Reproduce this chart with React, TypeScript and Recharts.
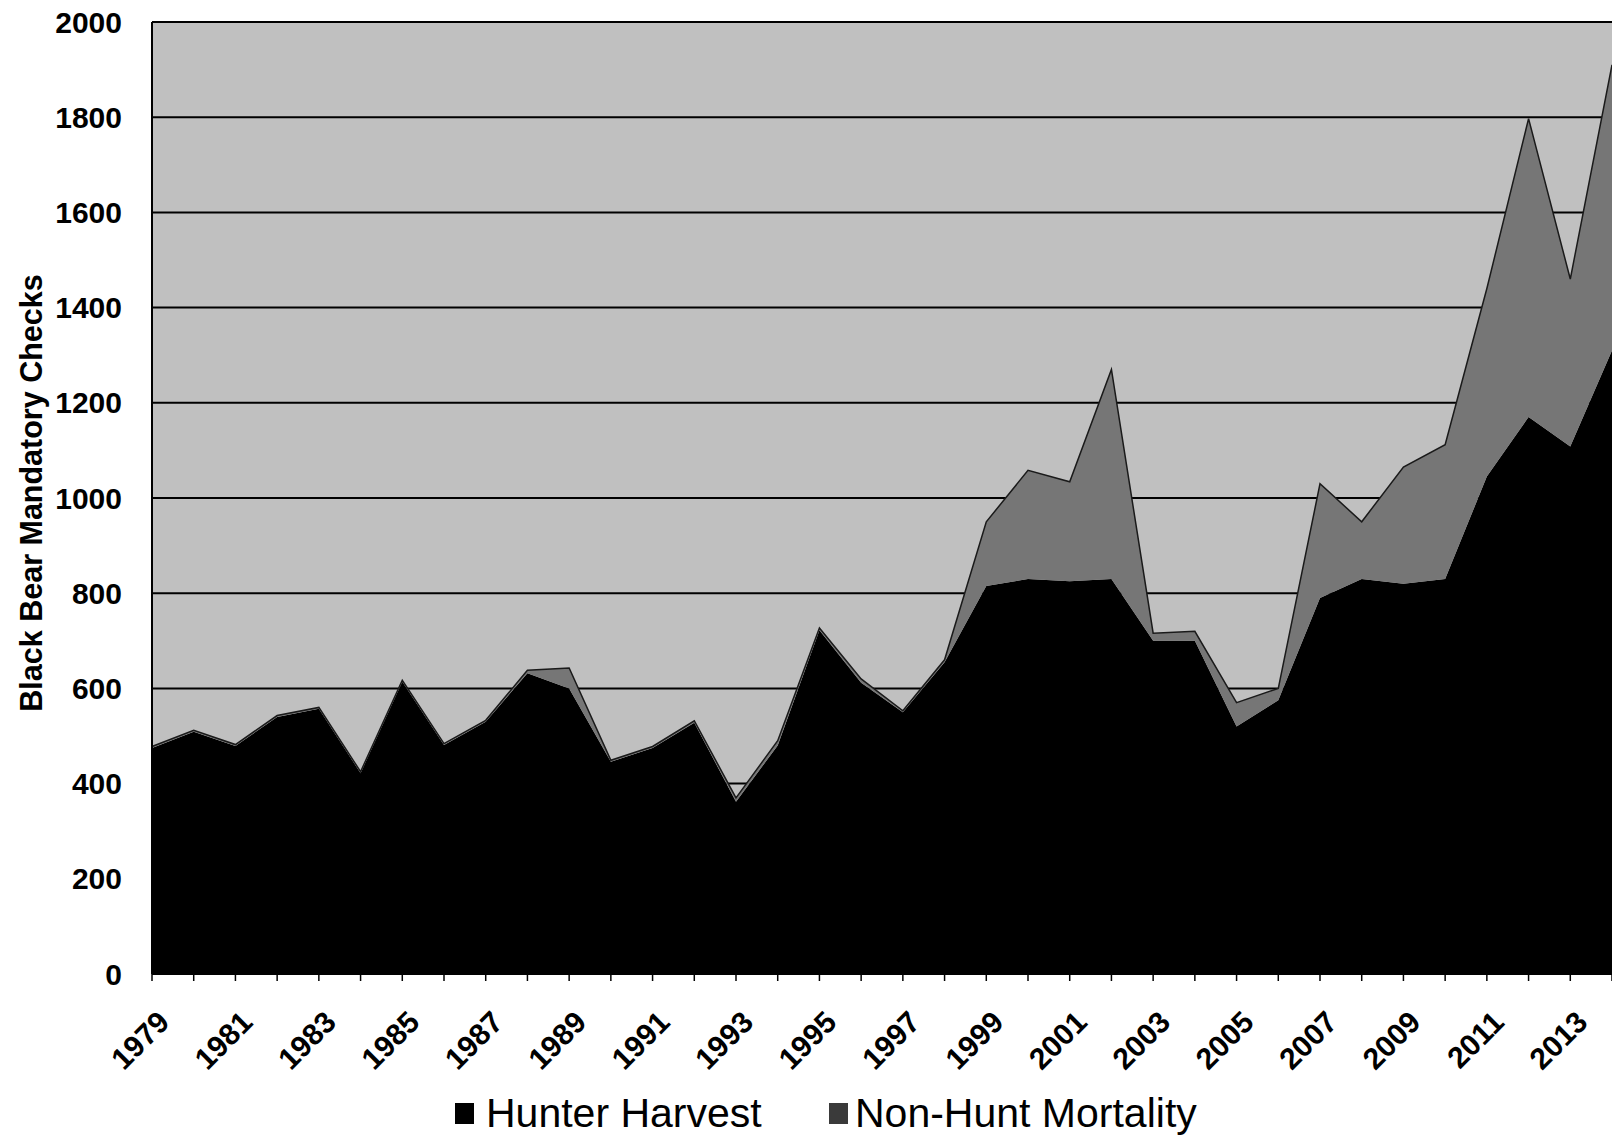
import React from 'react';
import { AreaChart, Area, XAxis, YAxis, CartesianGrid, Legend } from 'recharts';

const years = [
  1979, 1980, 1981, 1982, 1983, 1984, 1985, 1986, 1987, 1988, 1989, 1990,
  1991, 1992, 1993, 1994, 1995, 1996, 1997, 1998, 1999, 2000, 2001, 2002,
  2003, 2004, 2005, 2006, 2007, 2008, 2009, 2010, 2011, 2012, 2013, 2014,
];

const hunterHarvest = [
  475, 509, 479, 540, 557, 422, 614, 481, 530, 632, 600, 446,
  475, 528, 362, 480, 722, 612, 550, 655, 815, 830, 825, 830,
  700, 700, 520, 575, 790, 830, 820, 830, 1045, 1170, 1108, 1310,
];

const nonHuntMortality = [
  3, 3, 3, 3, 3, 3, 3, 3, 3, 6, 43, 3,
  3, 4, 8, 10, 5, 8, 3, 5, 135, 228, 209, 440,
  16, 20, 50, 25, 240, 120, 245, 282, 395, 627, 352, 600,
];

const yTicks = [0, 200, 400, 600, 800, 1000, 1200, 1400, 1600, 1800, 2000];

const seriesNames = { hunter: 'Hunter Harvest', nonHunt: 'Non-Hunt Mortality' };

const data = years.map((y, i) => ({
  year: String(y),
  hunter: hunterHarvest[i],
  nonHunt: nonHuntMortality[i],
}));

const FONT = '"Liberation Sans", Arial, Helvetica, sans-serif';
const HUNTER_COLOR = '#000000';
const NONHUNT_COLOR = '#767676';
const PLOT_BG = '#c0c0c0';

function XTick(props: any) {
  const { x, y, payload } = props;
  const idx = years.indexOf(Number(payload.value));
  const ax = x + 19;
  const ay = y + 50;
  return (
    <g>
      <line x1={x} x2={x} y1={y} y2={y + 7} stroke="#000" strokeWidth={1.5} />
      {idx % 2 === 0 ? (
        <text
          x={ax}
          y={ay}
          textAnchor="end"
          transform={`rotate(-45 ${ax} ${ay})`}
          fontFamily={FONT}
          fontWeight="bold"
          fontSize={30}
          fill="#000"
        >
          {payload.value}
        </text>
      ) : null}
    </g>
  );
}

function YTitle() {
  return (
    <text
      x={31}
      y={493}
      transform="rotate(-90 31 493)"
      textAnchor="middle"
      dominantBaseline="central"
      fontFamily={FONT}
      fontWeight="bold"
      fontSize={30.5}
      fill="#000"
    >
      Black Bear Mandatory Checks
    </text>
  );
}

function renderLegend() {
  return (
    <div
      style={{
        position: 'relative',
        width: 1612,
        height: 46,
        fontFamily: FONT,
        fontSize: 41,
        color: '#000',
      }}
    >
      <span
        style={{ position: 'absolute', left: 455, top: 13, width: 19, height: 21, background: HUNTER_COLOR }}
      />
      <span style={{ position: 'absolute', left: 486, top: 0, lineHeight: '46px', whiteSpace: 'nowrap' }}>
        {seriesNames.hunter}
      </span>
      <span
        style={{
          position: 'absolute',
          left: 829,
          top: 13,
          width: 19,
          height: 21,
          background: '#3a3a3a',
        }}
      />
      <span style={{ position: 'absolute', left: 855, top: 0, lineHeight: '46px', whiteSpace: 'nowrap' }}>
        {seriesNames.nonHunt}
      </span>
    </div>
  );
}

export default function App() {
  return (
    <div style={{ position: 'absolute', left: 0, top: 0, width: 1612, height: 1138, background: '#fff' }}>
      <AreaChart
        width={1612}
        height={1138}
        data={data}
        margin={{ top: 22, right: 0, bottom: 0, left: 0 }}
      >
        <CartesianGrid
          horizontal
          vertical={false}
          stroke="#000"
          strokeWidth={2}
          fill={PLOT_BG}
          fillOpacity={1}
        />
        <XAxis
          dataKey="year"
          interval={0}
          height={164}
          tickSize={0}
          tickMargin={0}
          tickLine={false}
          tick={<XTick />}
          axisLine={{ stroke: '#000', strokeWidth: 2 }}
        />
        <YAxis
          domain={[0, 2000]}
          ticks={yTicks}
          width={152}
          tickSize={0}
          tickMargin={30}
          tickLine={false}
          axisLine={{ stroke: '#000', strokeWidth: 2 }}
          tick={{ fontSize: 30, fontWeight: 'bold', fill: '#000', fontFamily: FONT }}
          label={<YTitle />}
        />
        <Area
          type="linear"
          dataKey="hunter"
          name={seriesNames.hunter}
          stackId="1"
          stroke="none"
          fill={HUNTER_COLOR}
          fillOpacity={1}
          isAnimationActive={false}
        />
        <Area
          type="linear"
          dataKey="nonHunt"
          name={seriesNames.nonHunt}
          stackId="1"
          stroke="#1a1a1a"
          strokeWidth={1.5}
          fill={NONHUNT_COLOR}
          fillOpacity={1}
          isAnimationActive={false}
        />
        <Legend
          layout="vertical"
          align="center"
          verticalAlign="middle"
          wrapperStyle={{ left: 0, top: 1090, width: 1612, height: 46 }}
          content={renderLegend}
        />
      </AreaChart>
    </div>
  );
}
